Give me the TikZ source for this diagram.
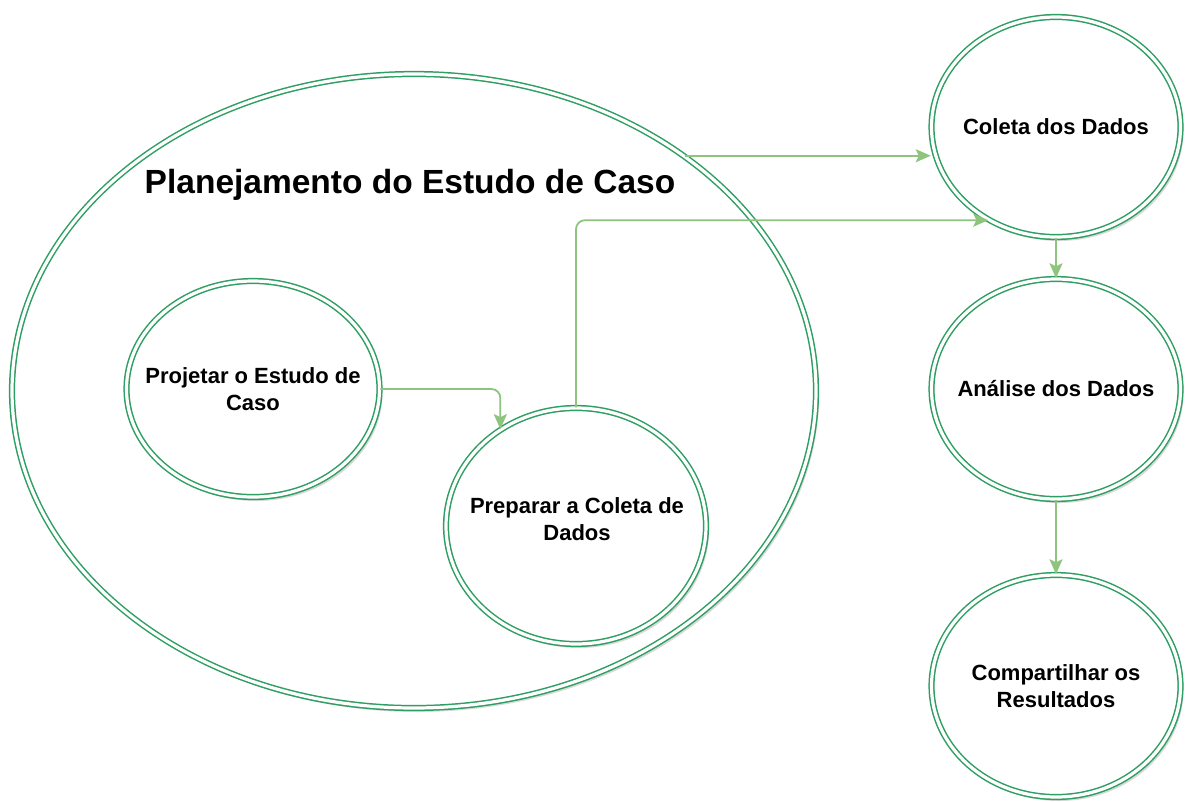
\documentclass[tikz,border=0pt]{standalone}
\usepackage{fontspec}
\setmainfont{Liberation Sans}
\usetikzlibrary{shapes.geometric,arrows.meta,shadows}
\definecolor{ringgreen}{HTML}{2E9E62}
\definecolor{flowgreen}{HTML}{8EC47E}
\begin{document}
\begin{tikzpicture}[x=1pt,y=-1pt,
    bubble/.style={ellipse,draw=ringgreen,line width=1.5pt,double=white,double distance=3.2pt,
        fill=white,inner sep=0pt,
        drop shadow={shadow xshift=3pt,shadow yshift=-4pt,opacity=0.3,fill=black!50}},
    caption/.style={align=center,font=\fontsize{22}{26.5}\selectfont\bfseries},
    flow/.style={draw=flowgreen,line width=1.8pt,rounded corners=9pt,
        -{Stealth[length=15pt,width=13pt,inset=3pt]}}]
    \useasboundingbox (0,0) rectangle (1186,801);
    %% Planning ellipse
    \node[bubble,minimum width=804pt,minimum height=634pt] (plan) at (414,391) {};
    \node[font=\fontsize{33.5}{38}\selectfont\bfseries] (title) at (410,185) {Planejamento do Estudo de Caso};
    \node[bubble,minimum width=253pt,minimum height=216pt] (projetar) at (253,389) {};
    \node[caption] (projetartxt) at (projetar) {Projetar o Estudo de\\Caso};
    \node[bubble,minimum width=260pt,minimum height=236pt] (preparar) at (576,526) {};
    \node[caption] (preparartxt) at (577,519) {Preparar a Coleta de\\Dados};
    %% Right column
    \node[bubble,minimum width=249pt,minimum height=220pt] (coleta) at (1056,127) {};
    \node[caption] (coletatxt) at (coleta) {Coleta dos Dados};
    \node[bubble,minimum width=249pt,minimum height=220pt] (analise) at (1056,389) {};
    \node[caption] (analisetxt) at (analise) {Análise dos Dados};
    \node[bubble,minimum width=249pt,minimum height=222pt] (compartilhar) at (1056,686) {};
    \node[caption] (compartilhartxt) at (compartilhar) {Compartilhar os\\Resultados};
    %% Connectors
    \draw[flow] (plan.41) -- (plan.41 -| coleta.west);
    \draw[flow] (preparar.north) |- (coleta.234);
    \draw[flow] (projetar.east) -| (preparar.128);
    \draw[flow] (coleta.south) -- (analise.north);
    \draw[flow] (analise.south) -- (compartilhar.north);
\end{tikzpicture}
\end{document}
